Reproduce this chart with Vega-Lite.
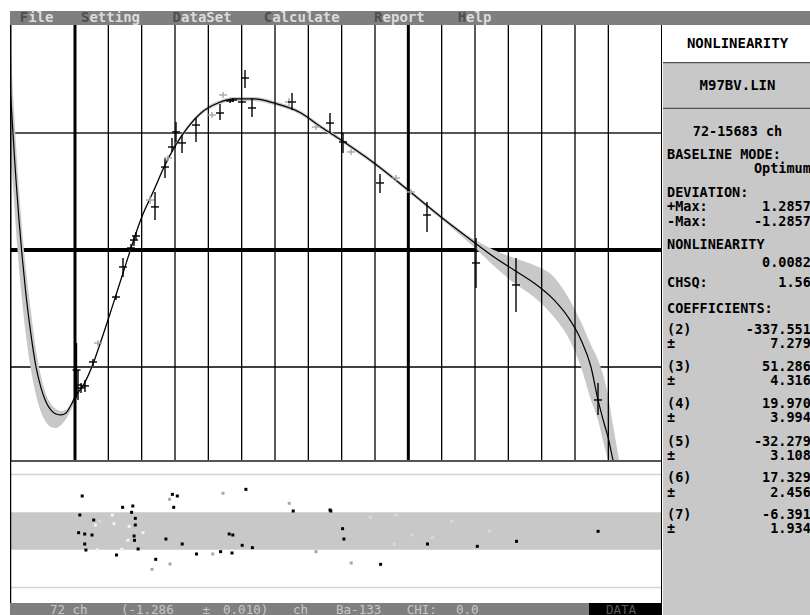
{
  "$schema": "https://vega.github.io/schema/vega-lite/v6.json",
  "background": "#ffffff",
  "padding": {"left": 9, "top": 11, "right": 0, "bottom": 0},
  "spacing": 0,
  "config": {"view": {"stroke": null}, "concat": {"spacing": 0}, "text": {"font": "DejaVu Sans Mono"}},
  "datasets": {
    "menu": [
      {"hot": "F", "rest": "ile", "col": 1.85},
      {"hot": "S", "rest": "etting", "col": 7.9},
      {"hot": "D", "rest": "ataSet", "col": 16.95},
      {"hot": "C", "rest": "alculate", "col": 25.95},
      {"hot": "R", "rest": "eport", "col": 36.85},
      {"hot": "H", "rest": "elp", "col": 45.1}
    ],
    "hgrid": [{"dev": 1}, {"dev": 0}, {"dev": -1}],
    "vgrid": [{"ch": 0}, {"ch": 1000}, {"ch": 2000}, {"ch": 3000}, {"ch": 4000}, {"ch": 5000}, {"ch": 6000}, {"ch": 7000}, {"ch": 8000}, {"ch": 9000}, {"ch": 10000}, {"ch": 11000}, {"ch": 12000}, {"ch": 13000}, {"ch": 14000}, {"ch": 15000}, {"ch": 16000}],
    "curve": [
      {"ch": -1980, "dev": 1.419, "hi": 1.880, "lo": 0.940},
      {"ch": -1935, "dev": 1.325, "hi": 1.752, "lo": 0.855},
      {"ch": -1890, "dev": 1.137, "hi": 1.496, "lo": 0.667},
      {"ch": -1830, "dev": 0.855, "hi": 1.197, "lo": 0.427},
      {"ch": -1770, "dev": 0.598, "hi": 0.897, "lo": 0.171},
      {"ch": -1680, "dev": 0.256, "hi": 0.513, "lo": -0.154},
      {"ch": -1590, "dev": -0.043, "hi": 0.188, "lo": -0.427},
      {"ch": -1470, "dev": -0.385, "hi": -0.171, "lo": -0.735},
      {"ch": -1320, "dev": -0.726, "hi": -0.530, "lo": -1.026},
      {"ch": -1170, "dev": -1.000, "hi": -0.855, "lo": -1.239},
      {"ch": -1020, "dev": -1.179, "hi": -1.077, "lo": -1.385},
      {"ch": -870, "dev": -1.299, "hi": -1.231, "lo": -1.470},
      {"ch": -720, "dev": -1.368, "hi": -1.316, "lo": -1.513},
      {"ch": -570, "dev": -1.402, "hi": -1.359, "lo": -1.521},
      {"ch": -420, "dev": -1.410, "hi": -1.376, "lo": -1.496},
      {"ch": -270, "dev": -1.393, "hi": -1.368, "lo": -1.444},
      {"ch": -120, "dev": -1.325, "hi": -1.308, "lo": -1.368},
      {"ch": 0, "dev": -1.256, "hi": -1.239, "lo": -1.282},
      {"ch": 270, "dev": -1.145, "hi": -1.128, "lo": -1.162},
      {"ch": 540, "dev": -0.974, "hi": -0.957, "lo": -0.991},
      {"ch": 780, "dev": -0.778, "hi": -0.761, "lo": -0.795},
      {"ch": 990, "dev": -0.598, "hi": -0.581, "lo": -0.615},
      {"ch": 1230, "dev": -0.385, "hi": -0.368, "lo": -0.402},
      {"ch": 1470, "dev": -0.171, "hi": -0.154, "lo": -0.188},
      {"ch": 1740, "dev": 0.068, "hi": 0.085, "lo": 0.051},
      {"ch": 1980, "dev": 0.265, "hi": 0.282, "lo": 0.248},
      {"ch": 2370, "dev": 0.513, "hi": 0.530, "lo": 0.496},
      {"ch": 2700, "dev": 0.726, "hi": 0.744, "lo": 0.709},
      {"ch": 2970, "dev": 0.872, "hi": 0.889, "lo": 0.855},
      {"ch": 3390, "dev": 1.051, "hi": 1.068, "lo": 1.034},
      {"ch": 3780, "dev": 1.171, "hi": 1.188, "lo": 1.154},
      {"ch": 4290, "dev": 1.256, "hi": 1.274, "lo": 1.239},
      {"ch": 4770, "dev": 1.291, "hi": 1.308, "lo": 1.274},
      {"ch": 5370, "dev": 1.291, "hi": 1.308, "lo": 1.274},
      {"ch": 5970, "dev": 1.256, "hi": 1.274, "lo": 1.239},
      {"ch": 6780, "dev": 1.171, "hi": 1.188, "lo": 1.154},
      {"ch": 7380, "dev": 1.051, "hi": 1.068, "lo": 1.034},
      {"ch": 7980, "dev": 0.940, "hi": 0.957, "lo": 0.923},
      {"ch": 8970, "dev": 0.744, "hi": 0.761, "lo": 0.726},
      {"ch": 9990, "dev": 0.513, "hi": 0.530, "lo": 0.496},
      {"ch": 10980, "dev": 0.282, "hi": 0.299, "lo": 0.265},
      {"ch": 12000, "dev": 0.060, "hi": 0.085, "lo": 0.017},
      {"ch": 12570, "dev": -0.060, "hi": 0.000, "lo": -0.137},
      {"ch": 13170, "dev": -0.171, "hi": -0.068, "lo": -0.282},
      {"ch": 13770, "dev": -0.282, "hi": -0.128, "lo": -0.402},
      {"ch": 14370, "dev": -0.427, "hi": -0.231, "lo": -0.573},
      {"ch": 14790, "dev": -0.573, "hi": -0.402, "lo": -0.744},
      {"ch": 15180, "dev": -0.769, "hi": -0.615, "lo": -1.000},
      {"ch": 15480, "dev": -1.000, "hi": -0.812, "lo": -1.282},
      {"ch": 15690, "dev": -1.282, "hi": -0.940, "lo": -1.453},
      {"ch": 15870, "dev": -1.479, "hi": -1.094, "lo": -1.667},
      {"ch": 15990, "dev": -1.598, "hi": -1.239, "lo": -1.795},
      {"ch": 16140, "dev": -1.795, "hi": -1.496, "lo": -1.949},
      {"ch": 16320, "dev": -1.983, "hi": -1.795, "lo": -2.137}
    ],
    "pts": [
      {"ch": 45, "dev": -1.026, "hi": -0.795, "lo": -1.265, "kind": "black"},
      {"ch": 90, "dev": -1.154, "hi": -1.026, "lo": -1.282, "kind": "black"},
      {"ch": 180, "dev": -1.179, "hi": -1.137, "lo": -1.222, "kind": "black"},
      {"ch": 300, "dev": -1.162, "hi": -1.111, "lo": -1.214, "kind": "black"},
      {"ch": 540, "dev": -0.957, "hi": -0.932, "lo": -0.991, "kind": "black"},
      {"ch": 690, "dev": -0.795, "hi": -0.769, "lo": -0.829, "kind": "gray"},
      {"ch": 1230, "dev": -0.402, "hi": -0.385, "lo": -0.427, "kind": "black"},
      {"ch": 1440, "dev": -0.145, "hi": -0.068, "lo": -0.231, "kind": "black"},
      {"ch": 1680, "dev": 0.017, "hi": 0.051, "lo": -0.017, "kind": "black"},
      {"ch": 1770, "dev": 0.085, "hi": 0.120, "lo": 0.034, "kind": "black"},
      {"ch": 1830, "dev": 0.120, "hi": 0.154, "lo": 0.085, "kind": "black"},
      {"ch": 2250, "dev": 0.427, "hi": 0.462, "lo": 0.393, "kind": "gray"},
      {"ch": 2400, "dev": 0.368, "hi": 0.496, "lo": 0.256, "kind": "black"},
      {"ch": 2700, "dev": 0.709, "hi": 0.786, "lo": 0.615, "kind": "black"},
      {"ch": 2790, "dev": 0.786, "hi": 0.812, "lo": 0.761, "kind": "gray"},
      {"ch": 2910, "dev": 0.880, "hi": 0.957, "lo": 0.838, "kind": "black"},
      {"ch": 3030, "dev": 1.009, "hi": 1.094, "lo": 0.923, "kind": "black"},
      {"ch": 3210, "dev": 0.915, "hi": 0.983, "lo": 0.829, "kind": "black"},
      {"ch": 3630, "dev": 1.068, "hi": 1.128, "lo": 0.923, "kind": "black"},
      {"ch": 4110, "dev": 1.154, "hi": 1.179, "lo": 1.128, "kind": "gray"},
      {"ch": 4350, "dev": 1.171, "hi": 1.248, "lo": 1.111, "kind": "black"},
      {"ch": 4440, "dev": 1.325, "hi": 1.350, "lo": 1.299, "kind": "gray"},
      {"ch": 4650, "dev": 1.274, "hi": 1.291, "lo": 1.256, "kind": "black"},
      {"ch": 4740, "dev": 1.282, "hi": 1.299, "lo": 1.265, "kind": "black"},
      {"ch": 5010, "dev": 1.265, "hi": 1.274, "lo": 1.256, "kind": "black"},
      {"ch": 5100, "dev": 1.470, "hi": 1.538, "lo": 1.385, "kind": "black"},
      {"ch": 5310, "dev": 1.214, "hi": 1.299, "lo": 1.137, "kind": "black"},
      {"ch": 6420, "dev": 1.265, "hi": 1.299, "lo": 1.231, "kind": "gray"},
      {"ch": 6510, "dev": 1.265, "hi": 1.342, "lo": 1.197, "kind": "black"},
      {"ch": 7230, "dev": 1.051, "hi": 1.077, "lo": 1.026, "kind": "gray"},
      {"ch": 7650, "dev": 1.085, "hi": 1.171, "lo": 1.000, "kind": "black"},
      {"ch": 8040, "dev": 0.923, "hi": 1.000, "lo": 0.829, "kind": "black"},
      {"ch": 8280, "dev": 0.838, "hi": 0.863, "lo": 0.812, "kind": "gray"},
      {"ch": 9150, "dev": 0.573, "hi": 0.650, "lo": 0.487, "kind": "black"},
      {"ch": 9630, "dev": 0.615, "hi": 0.641, "lo": 0.590, "kind": "gray"},
      {"ch": 10080, "dev": 0.496, "hi": 0.521, "lo": 0.470, "kind": "gray"},
      {"ch": 10560, "dev": 0.299, "hi": 0.410, "lo": 0.154, "kind": "black"},
      {"ch": 12030, "dev": -0.111, "hi": 0.103, "lo": -0.325, "kind": "black"},
      {"ch": 13230, "dev": -0.299, "hi": -0.068, "lo": -0.530, "kind": "black"},
      {"ch": 15690, "dev": -1.282, "hi": -1.137, "lo": -1.410, "kind": "black"}
    ],
    "resid": [
      {"ch": 216, "res": 1.862, "kind": "black"},
      {"ch": 144, "res": 0.851, "kind": "black"},
      {"ch": 108, "res": -0.090, "kind": "black"},
      {"ch": 291, "res": -0.160, "kind": "black"},
      {"ch": 510, "res": -0.213, "kind": "black"},
      {"ch": 561, "res": 0.585, "kind": "black"},
      {"ch": 291, "res": -0.691, "kind": "black"},
      {"ch": 327, "res": -1.011, "kind": "black"},
      {"ch": 1245, "res": -1.277, "kind": "black"},
      {"ch": 1428, "res": 1.259, "kind": "black"},
      {"ch": 1734, "res": 1.330, "kind": "black"},
      {"ch": 1698, "res": 0.993, "kind": "black"},
      {"ch": 1809, "res": 0.674, "kind": "black"},
      {"ch": 1809, "res": 0.319, "kind": "black"},
      {"ch": 1773, "res": -0.266, "kind": "black"},
      {"ch": 1785, "res": -0.496, "kind": "black"},
      {"ch": 1893, "res": -0.957, "kind": "black"},
      {"ch": 2421, "res": -1.507, "kind": "black"},
      {"ch": 2727, "res": -0.426, "kind": "black"},
      {"ch": 2922, "res": 1.950, "kind": "black"},
      {"ch": 3069, "res": 1.862, "kind": "black"},
      {"ch": 2961, "res": 1.259, "kind": "black"},
      {"ch": 3216, "res": -0.691, "kind": "black"},
      {"ch": 3645, "res": -1.223, "kind": "black"},
      {"ch": 4368, "res": -1.099, "kind": "black"},
      {"ch": 4626, "res": -0.160, "kind": "black"},
      {"ch": 4734, "res": -0.213, "kind": "black"},
      {"ch": 4710, "res": -1.170, "kind": "black"},
      {"ch": 5016, "res": -0.762, "kind": "black"},
      {"ch": 5127, "res": 2.216, "kind": "black"},
      {"ch": 5322, "res": -0.887, "kind": "black"},
      {"ch": 6546, "res": 1.064, "kind": "black"},
      {"ch": 7650, "res": 1.117, "kind": "black"},
      {"ch": 7674, "res": 1.064, "kind": "black"},
      {"ch": 8028, "res": 0.124, "kind": "black"},
      {"ch": 8067, "res": -0.426, "kind": "black"},
      {"ch": 9168, "res": -1.773, "kind": "black"},
      {"ch": 10575, "res": -0.691, "kind": "black"},
      {"ch": 12069, "res": -0.816, "kind": "black"},
      {"ch": 13245, "res": -0.550, "kind": "black"},
      {"ch": 15693, "res": -0.018, "kind": "black"},
      {"ch": 4440, "res": 2.004, "kind": "gray"},
      {"ch": 2838, "res": 1.684, "kind": "gray"},
      {"ch": 2310, "res": -2.039, "kind": "gray"},
      {"ch": 2850, "res": -1.755, "kind": "gray"},
      {"ch": 4134, "res": -1.223, "kind": "gray"},
      {"ch": 6426, "res": 1.473, "kind": "gray"},
      {"ch": 7233, "res": -1.099, "kind": "gray"},
      {"ch": 8286, "res": -1.702, "kind": "gray"},
      {"ch": 1122, "res": 0.851, "kind": "white"},
      {"ch": 609, "res": 0.319, "kind": "white"},
      {"ch": 1626, "res": 0.248, "kind": "white"},
      {"ch": 2040, "res": -0.090, "kind": "white"},
      {"ch": 1587, "res": -0.496, "kind": "white"},
      {"ch": 1404, "res": -0.975, "kind": "white"},
      {"ch": 669, "res": -1.011, "kind": "white"},
      {"ch": 1170, "res": 0.390, "kind": "white"},
      {"ch": 744, "res": 0.514, "kind": "faint"},
      {"ch": 8862, "res": 0.727, "kind": "faint"},
      {"ch": 9621, "res": 0.851, "kind": "faint"},
      {"ch": 9585, "res": -0.691, "kind": "faint"},
      {"ch": 10110, "res": -0.213, "kind": "faint"},
      {"ch": 10722, "res": -0.337, "kind": "faint"},
      {"ch": 11298, "res": 0.514, "kind": "faint"},
      {"ch": 12438, "res": -0.018, "kind": "faint"}
    ],
    "rlines": [{"res": 3}, {"res": -3}],
    "status": [
      {"t": "72 ch", "col": 4.84},
      {"t": "(-1.286", "col": 11.85},
      {"t": "±", "col": 19.9},
      {"t": "0.010)", "col": 21.93},
      {"t": "ch", "col": 28.84},
      {"t": "Ba-133", "col": 33.09},
      {"t": "CHI:", "col": 40.07},
      {"t": "0.0", "col": 44.94},
      {"t": "DATA", "col": 59.75}
    ],
    "panel": [
      {"row": 1.68, "c": "72-15683 ch"},
      {"row": 3.41, "l": "BASELINE MODE:"},
      {"row": 4.48, "r": "Optimum"},
      {"row": 6.2, "l": "DEVIATION:"},
      {"row": 7.27, "l": "+Max:", "r": "1.2857"},
      {"row": 8.35, "l": "-Max:", "r": "-1.2857"},
      {"row": 10.07, "l": "NONLINEARITY"},
      {"row": 11.39, "r": "0.0082"},
      {"row": 12.91, "l": "CHSQ:", "r": "1.56"},
      {"row": 14.84, "l": "COEFFICIENTS:"},
      {"row": 16.37, "l": "(2)", "r": "-337.551"},
      {"row": 17.44, "l": "±", "r": "7.279"},
      {"row": 19.09, "l": "(3)", "r": "51.286"},
      {"row": 20.16, "l": "±", "r": "4.316"},
      {"row": 21.85, "l": "(4)", "r": "19.970"},
      {"row": 22.92, "l": "±", "r": "3.994"},
      {"row": 24.64, "l": "(5)", "r": "-32.279"},
      {"row": 25.71, "l": "±", "r": "3.108"},
      {"row": 27.36, "l": "(6)", "r": "17.329"},
      {"row": 28.43, "l": "±", "r": "2.456"},
      {"row": 30.07, "l": "(7)", "r": "-6.391"},
      {"row": 31.14, "l": "±", "r": "1.934"}
    ]
  },
  "vconcat": [
    {
      "width": 801, "height": 14,
      "view": {"fill": "#7f7f7f", "stroke": null},
      "data": {"name": "menu"},
      "layer": [
        {"mark": {"type": "text", "align": "left", "baseline": "middle", "font": "DejaVu Sans Mono", "fontWeight": "bold", "fontSize": 14, "color": "#4e4e4e"},
         "encoding": {"x": {"field": "col", "type": "quantitative", "scale": {"domain": [0.889, 80], "nice": false, "zero": false}, "axis": null}, "text": {"field": "hot"}}},
        {"mark": {"type": "text", "align": "left", "baseline": "middle", "dx": 8.43, "font": "DejaVu Sans Mono", "fontWeight": "bold", "fontSize": 14, "color": "#dcdcdc"},
         "encoding": {"x": {"field": "col", "type": "quantitative"}, "text": {"field": "rest"}}}
      ]
    },
    {
      "spacing": 0,
      "hconcat": [
        {
          "spacing": 0,
          "vconcat": [
            {
              "width": 652, "height": 435,
              "view": {"fill": "#ffffff", "stroke": null},
              "layer": [
                {"data": {"name": "hgrid"}, "mark": {"type": "rule", "clip": true},
                 "encoding": {
                   "y": {"field": "dev", "type": "quantitative", "scale": {"domain": [-1.795, 1.923], "nice": false, "zero": false}, "axis": null},
                   "color": {"condition": {"test": "datum.dev === 1", "value": "#555555"}, "value": "#000000"},
                   "strokeWidth": {"condition": [{"test": "datum.dev === 0", "value": 4}, {"test": "datum.dev === 1", "value": 2}], "value": 1.3}
                 }},
                {"data": {"name": "curve"}, "mark": {"type": "area", "color": "#c8c8c8", "interpolate": "monotone", "clip": true},
                 "encoding": {
                   "x": {"field": "ch", "type": "quantitative", "scale": {"domain": [-1950, 17610], "nice": false, "zero": false}, "axis": null},
                   "y": {"field": "hi", "type": "quantitative", "scale": {"domain": [-1.795, 1.923], "nice": false, "zero": false}, "axis": null},
                   "y2": {"field": "lo"}
                 }},
                {"data": {"name": "vgrid"}, "mark": {"type": "rule", "color": "#000000", "clip": true},
                 "encoding": {
                   "x": {"field": "ch", "type": "quantitative", "scale": {"domain": [-1950, 17610], "nice": false, "zero": false}, "axis": null},
                   "strokeWidth": {"condition": {"test": "datum.ch % 10000 === 0", "value": 3}, "value": 1.3}
                 }},
                {"data": {"values": [{}]}, "mark": {"type": "rule", "color": "#000000", "strokeWidth": 3, "clip": true},
                 "encoding": {"x": {"datum": -1950, "type": "quantitative"}}},
                {"data": {"values": [{}]}, "mark": {"type": "rule", "color": "#000000", "strokeWidth": 2, "clip": true},
                 "encoding": {"x": {"datum": 17610, "type": "quantitative"}}},
                {"data": {"name": "curve"}, "mark": {"type": "line", "color": "#000000", "strokeWidth": 1.2, "interpolate": "monotone", "clip": true},
                 "encoding": {
                   "x": {"field": "ch", "type": "quantitative"},
                   "y": {"field": "dev", "type": "quantitative"}
                 }},
                {"data": {"name": "pts"}, "mark": {"type": "rule", "strokeWidth": 1.4, "clip": true},
                 "encoding": {
                   "x": {"field": "ch", "type": "quantitative"},
                   "y": {"field": "hi", "type": "quantitative"},
                   "y2": {"field": "lo"},
                   "color": {"field": "kind", "type": "nominal", "scale": {"domain": ["black", "gray", "white", "faint"], "range": ["#000000", "#a8a8a8", "#f4f4f4", "#d8d8d8"]}, "legend": null}
                 }},
                {"data": {"name": "pts"}, "mark": {"type": "tick", "orient": "horizontal", "size": 8, "thickness": 1.4, "opacity": 1, "clip": true},
                 "encoding": {
                   "x": {"field": "ch", "type": "quantitative"},
                   "y": {"field": "dev", "type": "quantitative"},
                   "color": {"field": "kind", "type": "nominal", "scale": {"domain": ["black", "gray", "white", "faint"], "range": ["#000000", "#a8a8a8", "#f4f4f4", "#d8d8d8"]}, "legend": null}
                 }}
              ]
            },
            {
              "width": 652, "height": 143,
              "view": {"fill": "#ffffff", "stroke": null},
              "layer": [
                {"data": {"values": [{}]}, "mark": {"type": "rect", "color": "#c8c8c8"},
                 "encoding": {
                   "x": {"datum": -1950, "type": "quantitative", "scale": {"domain": [-1950, 17610], "nice": false, "zero": false}, "axis": null},
                   "x2": {"datum": 17610},
                   "y": {"datum": 1, "type": "quantitative", "scale": {"domain": [-3.83, 3.777], "nice": false, "zero": false}, "axis": null},
                   "y2": {"datum": -1}
                 }},
                {"data": {"name": "rlines"}, "mark": {"type": "rule", "color": "#d4d4d4", "strokeWidth": 1.5},
                 "encoding": {"y": {"field": "res", "type": "quantitative"}}},
                {"data": {"values": [{}]}, "mark": {"type": "rule", "color": "#555555", "strokeWidth": 4, "clip": true},
                 "encoding": {"y": {"datum": 3.777, "type": "quantitative"}}},
                {"data": {"values": [{}]}, "mark": {"type": "rule", "color": "#000000", "strokeWidth": 2.5, "clip": true},
                 "encoding": {"x": {"datum": -1950, "type": "quantitative"}}},
                {"data": {"values": [{}]}, "mark": {"type": "rule", "color": "#000000", "strokeWidth": 2, "clip": true},
                 "encoding": {"x": {"datum": 17610, "type": "quantitative"}}},
                {"data": {"name": "resid"}, "mark": {"type": "square", "size": 9, "filled": true, "opacity": 1, "clip": true},
                 "encoding": {
                   "x": {"field": "ch", "type": "quantitative"},
                   "y": {"field": "res", "type": "quantitative"},
                   "color": {"field": "kind", "type": "nominal", "scale": {"domain": ["black", "gray", "white", "faint"], "range": ["#000000", "#a8a8a8", "#f4f4f4", "#d8d8d8"]}, "legend": null}
                 }}
              ]
            },
            {
              "width": 652, "height": 12,
              "view": {"fill": "#7f7f7f", "stroke": null},
              "layer": [
                {"data": {"values": [{}]}, "mark": {"type": "rect", "color": "#000000"},
                 "encoding": {
                   "x": {"datum": 58.07, "type": "quantitative", "scale": {"domain": [0.889, 65.28], "nice": false, "zero": false}, "axis": null},
                   "x2": {"datum": 65.28},
                   "y": {"datum": 0, "type": "quantitative", "scale": {"domain": [0, 1], "nice": false, "zero": false}, "axis": null},
                   "y2": {"datum": 1}
                 }},
                {"data": {"name": "status"}, "mark": {"type": "text", "align": "left", "baseline": "middle", "dy": 0.5, "font": "DejaVu Sans Mono", "fontSize": 12.5},
                 "encoding": {
                   "x": {"field": "col", "type": "quantitative"},
                   "text": {"field": "t"},
                   "color": {"condition": {"test": "datum.t === 'DATA'", "value": "#5a5a5a"}, "value": "#c8c8c8"}
                 }}
              ]
            }
          ]
        },
        {
          "spacing": 0,
          "vconcat": [
            {
              "width": 149, "height": 37,
              "view": {"fill": "#ffffff", "stroke": null},
              "data": {"values": [{"t": "NONLINEARITY"}]},
              "mark": {"type": "text", "font": "DejaVu Sans Mono", "fontWeight": "bold", "fontSize": 14, "color": "#000000"},
              "encoding": {"text": {"field": "t"}}
            },
            {
              "width": 149, "height": 47,
              "view": {"fill": "#c8c8c8", "stroke": null},
              "layer": [
                {"data": {"values": [{"t": "M97BV.LIN"}]},
                 "mark": {"type": "text", "font": "DejaVu Sans Mono", "fontWeight": "bold", "fontSize": 14, "color": "#000000"},
                 "encoding": {"text": {"field": "t"}}},
                {"data": {"values": [{}]}, "mark": {"type": "rule", "color": "#505050", "strokeWidth": 2.5, "clip": true},
                 "encoding": {"y": {"datum": 1, "type": "quantitative", "scale": {"domain": [0, 1], "nice": false, "zero": false}, "axis": null}}},
                {"data": {"values": [{}]}, "mark": {"type": "rule", "color": "#505050", "strokeWidth": 2.5, "clip": true},
                 "encoding": {"y": {"datum": 0, "type": "quantitative"}}}
              ]
            },
            {
              "width": 149, "height": 506,
              "view": {"fill": "#c8c8c8", "stroke": null},
              "data": {"name": "panel"},
              "layer": [
                {"transform": [{"filter": "isValid(datum.c)"}],
                 "mark": {"type": "text", "align": "center", "baseline": "middle", "font": "DejaVu Sans Mono", "fontWeight": "bold", "fontSize": 13.5, "color": "#000000"},
                 "encoding": {
                   "x": {"datum": 72.64, "type": "quantitative", "scale": {"domain": [65.28, 80], "nice": false, "zero": false}, "axis": null},
                   "y": {"field": "row", "type": "quantitative", "scale": {"domain": [0, 37.48], "reverse": true, "nice": false, "zero": false}, "axis": null},
                   "text": {"field": "c"}
                 }},
                {"transform": [{"filter": "isValid(datum.l)"}],
                 "mark": {"type": "text", "align": "left", "baseline": "middle", "font": "DejaVu Sans Mono", "fontWeight": "bold", "fontSize": 13.5, "color": "#000000"},
                 "encoding": {
                   "x": {"datum": 65.68, "type": "quantitative"},
                   "y": {"field": "row", "type": "quantitative"},
                   "text": {"field": "l"}
                 }},
                {"transform": [{"filter": "isValid(datum.r)"}],
                 "mark": {"type": "text", "align": "right", "baseline": "middle", "font": "DejaVu Sans Mono", "fontWeight": "bold", "fontSize": 13.5, "color": "#000000"},
                 "encoding": {
                   "x": {"datum": 79.88, "type": "quantitative"},
                   "y": {"field": "row", "type": "quantitative"},
                   "text": {"field": "r"}
                 }}
              ]
            }
          ]
        }
      ]
    }
  ]
}
